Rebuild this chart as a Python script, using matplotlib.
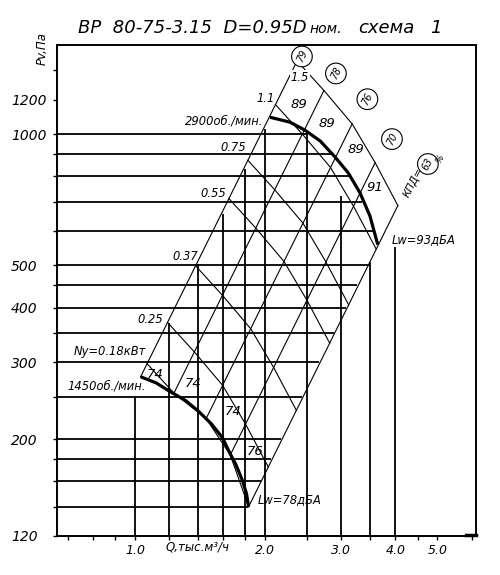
import numpy as np
import matplotlib.pyplot as plt
from matplotlib.ticker import NullLocator

plt.rcParams['font.family'] = ['DejaVu Sans']
plt.rcParams['font.style'] = 'italic'

# характеристики вентилятора
q_1450 = [1.03, 1.12, 1.19, 1.31, 1.40, 1.50, 1.59, 1.66, 1.71, 1.77, 1.81, 1.83]
p_1450 = [278, 269, 259, 245, 232, 217, 202, 185, 175, 161, 150, 140]
q_2900 = [2.05, 2.28, 2.47, 2.68, 2.90, 3.11, 3.31, 3.49, 3.64]
p_2900 = [1093, 1065, 1021, 964, 886, 815, 734, 650, 558]

# линии постоянного КПД (P ~ Q^2), начинаются на кривой 1450 об/мин
kpd = [79, 78, 76, 70, 63]
kpd_q0 = [1.03, 1.23, 1.46, 1.66, 1.83]
kpd_p0 = [278, 255, 223, 184, 140]

# мощности двигателей и положение их линий на левой линии КПД
ny = ['0.18', '0.25', '0.37', '0.55', '0.75', '1.1', '1.5']
ny_r = [1.035, 1.154, 1.34, 1.60, 1.77, 2.05, 2.30]

# сетка
v_q = [1.0, 1.2, 1.4, 1.6, 1.8, 2.0, 2.5, 3.0, 3.5, 4.0]
v_top = [250, 370, 504, 657, 834, 1025, 1010, 720, 510, 550]
h_p = [1000, 900, 800, 700, 600, 500, 450, 400, 350, 300, 250, 200, 180, 160, 140]
h_end = [2.50, 2.87, 3.15, 3.35, 3.58, 3.48, 3.26, 3.08, 2.88, 2.66, 2.43, 2.17, 2.06, 1.95, 1.82]

x_ticks = [0.7, 0.8, 0.9, 1.0, 1.2, 1.4, 1.6, 1.8, 2.0, 2.5, 3.0, 3.5, 4.0, 4.5, 5.0, 6.0]
x_labels = {1.0: '1.0', 2.0: '2.0', 3.0: '3.0', 4.0: '4.0', 5.0: '5.0'}
y_ticks = [120, 140, 160, 180, 200, 250, 300, 350, 400, 450, 500, 600, 700, 800, 900, 1000, 1200, 1400]
y_labels = {120: '120', 200: '200', 300: '300', 400: '400', 500: '500', 1000: '1000', 1200: '1200'}

fig = plt.figure(figsize=(5, 5.75), dpi=100)
ax = fig.add_axes([57/500, 39/575, 419/500, 491/575])
ax.set_xscale('log')
ax.set_yscale('log')
ax.set_xlim(0.66, 6.14)
ax.set_ylim(120, 1600)

ax.vlines(v_q, 120, v_top, color='black', lw=1.3)
ax.hlines(h_p, 0.66, h_end, color='black', lw=1.3)

# множитель для пересечения линии мощности с линией КПД: N ~ Q*P/eta
q0 = np.array(kpd_q0)
p0 = np.array(kpd_p0)
f = (q0[0] * p0[0] * np.array(kpd) / (kpd[0] * q0 * p0)) ** (1 / 3)

for j, r in enumerate(ny_r):
    s = r * f
    if j == 0:
        s = np.maximum(s, 1.0)
    ax.plot(s * q0, s ** 2 * p0, color='black', lw=0.8)

s_top = ny_r[-1] * f
for i in range(len(kpd)):
    ax.plot([q0[i], s_top[i] * q0[i]], [p0[i], s_top[i] ** 2 * p0[i]], color='black', lw=0.8)

ax.plot(q_1450, p_1450, color='black', lw=2.3, solid_capstyle='butt', solid_joinstyle='round')
ax.plot(q_2900, p_2900, color='black', lw=2.3, solid_capstyle='butt', solid_joinstyle='round')

for sp in ax.spines.values():
    sp.set_linewidth(1.4)

ax.set_xticks(x_ticks)
ax.set_xticklabels([x_labels.get(t, '') for t in x_ticks], fontsize=9)
ax.set_yticks(y_ticks)
ax.set_yticklabels([y_labels.get(t, '') for t in y_ticks], fontsize=10)
ax.xaxis.set_minor_locator(NullLocator())
ax.yaxis.set_minor_locator(NullLocator())
ax.tick_params(direction='out', length=3, width=1)
ax.tick_params(axis='x', pad=3)
ax.tick_params(axis='y', pad=30)
for t in ax.get_yticklabels():
    t.set_ha('left')

# подписи
fs = 8.3
ax.text(1.98, 1071, '2900об./мин.', ha='right', va='center', fontsize=fs)
ax.text(0.8617, 265, '1450об./мин.', ha='center', va='center', fontsize=fs)
ax.text(0.8755, 317, 'Ny=0.18кВт', ha='center', va='center', fontsize=fs)
ax.text(1.083, 376, '0.25', ha='center', va='center', fontsize=fs)
ax.text(1.305, 524, '0.37', ha='center', va='center', fontsize=fs)
ax.text(1.514, 730, '0.55', ha='center', va='center', fontsize=fs)
ax.text(1.684, 934, '0.75', ha='center', va='center', fontsize=fs)
ax.text(2.008, 1208, '1.1', ha='center', va='center', fontsize=fs)
ax.text(2.405, 1349, '1.5', ha='center', va='center', fontsize=fs,
        bbox=dict(fc='white', ec='none', pad=0.5))

for q, p, t in [(2.393, 1171, '89'), (2.777, 1059, '89'), (3.241, 924, '89'), (3.585, 753, '91'),
                (1.112, 282, '74'), (1.361, 268, '74'), (1.684, 231, '74'), (1.894, 187, '76')]:
    ax.text(q, p, t, ha='center', va='center', fontsize=9.5)

ax.text(3.925, 573, 'Lw=93дБА', ha='left', va='center', fontsize=fs)
ax.text(1.924, 145.5, 'Lw=78дБА', ha='left', va='center', fontsize=fs)

for q, p, t in [(2.431, 1506, '79'), (2.913, 1377, '78'), (3.444, 1202, '76'),
                (3.925, 974, '70'), (4.753, 854, '63')]:
    ax.text(q, p, t, ha='center', va='center', fontsize=7, rotation=63,
            rotation_mode='anchor',
            bbox=dict(boxstyle='circle,pad=0.42', fc='white', ec='black', lw=0.8))
ax.text(4.412, 773, 'КПД=', ha='center', va='center', fontsize=7.5, rotation=63,
        rotation_mode='anchor')
ax.text(5.067, 877, '%', ha='center', va='center', fontsize=6.5, rotation=63,
        rotation_mode='anchor')

ax.text(0.3365, -0.022, 'Q,тыс.м³/ч', transform=ax.transAxes, ha='center', va='center',
        fontsize=8.5)
ax.text(-0.036, 0.992, 'Pv,Па', transform=ax.transAxes, ha='center', va='center',
        fontsize=8.5, rotation=90)
ax.plot([0.976, 1.0], [0.003, 0.003], transform=ax.transAxes, color='black', lw=2.5,
        clip_on=False)

ty = 1 - 33/575
fig.text(78/500, ty, 'ВР  80-75-3.15  D=0.95D', ha='left', va='baseline', fontsize=13)
fig.text(309/500, ty, 'ном.', ha='left', va='baseline', fontsize=10)
fig.text(358/500, ty, 'схема', ha='left', va='baseline', fontsize=13)
fig.text(430/500, ty, '1', ha='left', va='baseline', fontsize=13)

fig.savefig('out.png', dpi=100)
